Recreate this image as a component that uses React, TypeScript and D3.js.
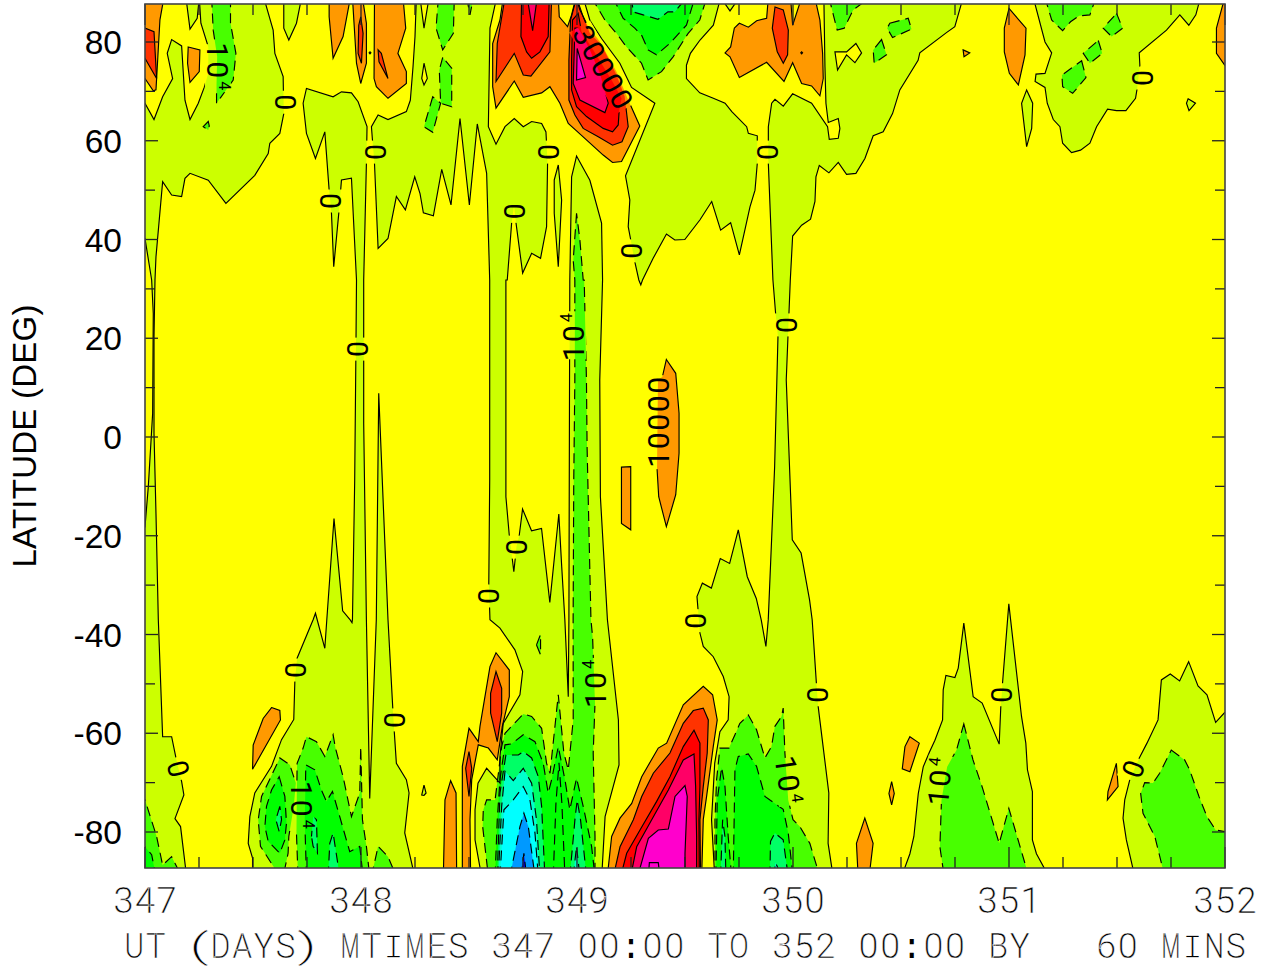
import React from "react";
import * as d3 from "d3";

type P = [number, number];
// every region outline: [hours since day 347, latitude in degrees]
const T = 89, B = -89, R = 121, L = -1;

const yellowWest: P[] = [[4.62,B],[11.95,B],[11.95,-85.3],[11.47,-82.3],[11.65,-76.9],[12.2,-72.1],[14.06,-66.7],[15.17,-61.3],[16.53,-57.2],[16.65,-49.5],[16.9,-44.8],[18.68,-37],[18.94,-35.7],[19.98,-42.8],[20.2,-37],[21,-16.5],[21.96,-35.2],[22.8,-37.05],[23,-37.6],[23.05,-37],[23.3,-8.7],[23.44,18.3],[23.5,31.8],[22.94,52.4],[21.83,52.05],[21.53,45.3],[20.97,34.5],[20.72,45.3],[20.46,50],[19.98,61.8],[18.94,56.4],[17.94,61.5],[17.57,67.6],[17.94,70.6],[20.9,68.9],[21.83,69.9],[22.94,69.7],[23.68,67.9],[24.67,62.85],[24.6,55.4],[24.3,31.8],[24.3,2.8],[24.6,-37.05],[24.97,-73.2],[25.7,-37],[25.97,8.85],[27,-37],[27.56,-55.9],[27.93,-66.1],[29.04,-69.4],[29.34,-72.1],[28.86,-80.2],[29.97,B],[37.4,B],[36.67,-81.6],[36.67,-75.5],[37,-70.1],[37.96,-67.1],[39.44,-70.1],[39.44,-64.7],[39.8,-58],[41.66,-52.2],[41.96,-47.5],[41.1,-43.1],[39.44,-38.7],[38.33,-37],[38.2,-29.6],[38.3,-8.7],[38.3,31.8],[37.96,53.4],[36.92,63.4],[36.04,47],[35,64.5],[34,47],[32.97,54.2],[32.04,44.8],[30.93,45.4],[30.56,49.3],[29.97,52.7],[28.93,46],[27.93,48.7],[27,40.2],[25.9,38.2],[25.5,55.4],[25.27,60.2],[25.16,62.85],[25.9,65.2],[27,64.3],[29.04,65.9],[29.48,68.2],[29.78,75],[30,81.1],[30.15,T],[13.2,T],[14.24,82.4],[14.43,77.7],[15.35,73],[15.42,65.5],[14.98,61.5],[13.87,59.5],[13.69,57.4],[12.2,53],[8.99,47.3],[7.03,52],[5,53.4],[4.44,52.4],[4.07,48.7],[2.96,49],[1.96,51.7],[1.22,36.5],[1.11,31.8],[1,20.3],[1,0.75],[1.22,-15.5],[1.48,-37],[1.96,-60.7],[2.96,-60.7],[3.44,-65],[4.07,-69.8],[4.32,-72.5],[3.33,-77.3],[3.95,-78.9]];
const yellowPocket: P[] = [[L,40.2],[0,40.2],[0.74,31.8],[0.92,25],[0.85,4.8],[0.37,-10],[0,-18.2],[L,-18.2]];
const yellowMiddle: P[] = [[50.75,B],[63.3,B],[62.95,-77.5],[63.3,-66.1],[63.88,-59.7],[64.8,-57.3],[64.9,-52.6],[64.25,-48.5],[63.14,-44.5],[62.03,-42.4],[61.66,-39.7],[61.33,-32.3],[61.93,-29.6],[62.93,-30.6],[63.92,-24.6],[64.96,-25.6],[65.92,-18.8],[66.92,-28.3],[67.92,-32.7],[68.47,-37.05],[68.99,-42.4],[69.25,-37.04],[69.96,-6],[70.33,20.3],[70.07,25],[69.77,31.8],[69.26,55.4],[69.26,62.85],[69.63,67.6],[70,68.4],[70.92,67],[71.96,69.5],[74.07,67.6],[75.84,62.85],[76.03,60.3],[77.03,60.5],[77.21,62.5],[77.03,64.5],[75.92,63.7],[75.66,67.6],[75.55,75],[75.43,T],[66.04,T],[65,86.3],[63.96,T],[63.15,83.4],[61.67,80.4],[60.6,77.7],[60.16,75.3],[60.16,72.6],[61.64,69.7],[63.15,68.6],[64.45,67.6],[65.2,65.9],[66.85,62.85],[67.04,61.5],[68.03,61],[68.03,55.4],[67.78,50],[67.22,46.6],[66.04,36.9],[65.07,43.4],[63.96,41.9],[62.97,47.7],[61.67,44],[59.98,40],[58.87,39.9],[57.94,41.1],[56.46,36.2],[55.28,31.8],[55.09,30.8],[54.87,31.8],[54.42,35.5],[53.94,40.2],[53.69,42.6],[53.87,48],[53.39,52.9],[56.65,67.6],[54.06,70.8],[52.76,75.7],[50.73,80.7],[49.43,84.4],[48.69,T],[39.07,T],[38.33,82.8],[38.15,62.85],[39,59.3],[40,62.85],[41.03,64.5],[42.03,62.85],[42.96,63.9],[44.07,63.5],[44.55,61.8],[44.73,55.4],[44.62,42.6],[43.95,36.2],[42.96,37.2],[41.96,33.2],[41.22,43.4],[41,47],[40.74,43.4],[40.25,31.8],[40.1,31.8],[40.1,-12.1],[40.47,-19.8],[40.65,-22.2],[40.98,-27.3],[41.28,-22.2],[41.58,-20],[41.95,-14.6],[42.95,-19],[44.06,-18.5],[44.98,-33.5],[45.98,-15.6],[46.28,-25.6],[46.65,-37],[47.03,-52.6],[47.1,-37],[47.2,31.8],[47.4,52.7],[47.95,56.9],[49.43,52],[50.73,43.3],[50.84,31.8],[50.53,11.55],[50.6,-12.1],[51.38,-37],[52.6,-57.3],[52.67,-66.4],[51.12,-76.9]];
const yellowEast: P[] = [[76.46,B],[75.9,-82.3],[75.98,-72.1],[74.98,-57.3],[74.8,-54.6],[74.6,-49.9],[74.13,-37],[73.84,-33],[72.9,-23.5],[71.92,-20.8],[71.25,11.55],[71.44,20.3],[71.55,25],[71.7,31.8],[71.96,40.7],[72.96,42.9],[73.95,44.1],[74.44,47.7],[74.55,52.7],[74.92,55],[75.99,53.5],[77.03,55.6],[77.95,53.2],[78.99,53.4],[79.99,56.4],[80.91,61],[82.02,61.8],[83.06,65.5],[83.87,70.3],[85.9,76.3],[86.09,77.8],[89.05,81.9],[89.98,83.1],[90.9,T],[98.7,T],[100,80],[100.74,77.8],[100,73.65],[99,73.5],[98.9,72],[100,70.8],[100.25,67.6],[100.92,64.3],[101.66,62.85],[101.96,59.5],[102.95,57.6],[103.95,58.1],[104.99,59.5],[105.73,62.85],[106.95,66.4],[107.95,66.1],[108.99,66.1],[110.06,68.6],[110.24,70.6],[110.54,75.3],[110.47,77.8],[113.5,82.4],[114.98,85.5],[115.98,83.4],[116.76,85.5],[117.27,T],[R,T],[R,-55.8],[119.96,-55.8],[118.96,-57.8],[118,-52.2],[117,-50.4],[115.96,-45.5],[114.96,-49.4],[113.92,-48],[112.93,-49.2],[112.56,-57.3],[111.33,-62],[110.45,-65.1],[109.41,-69.5],[108.86,-73.5],[108.67,-77.2],[109.04,-81.6],[109.97,B],[100.42,B],[99.05,-84.4],[98.6,-81.6],[98.6,-71.8],[98.05,-67.4],[97.87,-62],[97.39,-56.6],[95.98,-33.8],[95.28,-49.9],[95.09,-54.6],[94.91,-62.2],[93.02,-53.9],[92.02,-52.6],[90.98,-37.7],[90.36,-46.8],[89.99,-48.7],[88.99,-48.3],[88.69,-51.2],[88.62,-57.3],[87.77,-61.4],[87.14,-63.9],[86.47,-66.8],[85.92,-72.2],[85.43,-80.9],[84.99,-84.4],[84.07,B]];
const yellowNorthwest: P[] = [[L,67.6],[0,67.6],[1,64.3],[1.96,68.9],[3.07,72.6],[2.47,77.7],[2.96,80.5],[4.07,79.2],[4.44,68.2],[5,64.3],[5.92,67.6],[6.58,70.8],[7.03,73.65],[7.03,79],[6.21,83.8],[6.03,T],[5.8,84.8],[5,82.6],[4.55,T],[L,T]];
const yellowSmall: P[][] = [
  [[30.56,T],[31,82.8],[31.56,T]],
  [[31,75.7],[31.37,72.6],[31,71.3],[30.75,72.6]],
  [[76.66,78],[77.95,78],[78.99,79.7],[79.62,77.8],[78.88,75.8],[77.95,77.4],[76.95,74.3]],
];
const negIslands: P[][] = [
  [[15.42,T],[15.42,82.8],[15.98,80.4],[16.83,83.8],[17.4,T]],
  [[45.47,52.05],[45.92,55.1],[46.29,48],[45.92,34.5],[45.47,45.3]],
  [[97.96,70.3],[98.63,67.6],[98.52,62.5],[97.96,58.8],[97.4,67.6]],
  [[115.9,68.5],[116.72,67.6],[116,66.1],[115.72,67.6]],
  [[30.75,-72.5],[31,-70.5],[31.23,-72.1],[31,-72.6]],
];
const greenNorth: P[][] = [
  [[7.4,T],[7.58,82.4],[8.02,77],[7.95,71.6],[7.95,67.6],[9.8,72.3],[10.1,77.7],[9.5,83.8],[9.5,T]],
  [[7.03,63.9],[6.47,62.85],[7.03,62.2],[7.14,63]],
  [[32.6,T],[32.34,82.8],[33.08,78.4],[34.26,81.75],[34.37,T]],
  [[33.08,76.9],[32.7,74.3],[32.85,67.6],[34.08,66.9],[34.08,74.7]],
  [[31.97,68.9],[31,62.85],[31.97,61.7],[32.85,67.6]],
  [[35.74,T],[36.11,85.5],[36.48,T]],
  [[49.62,T],[51.1,84.45],[52.39,81.75],[53.5,79],[55.17,75.7],[55.9,72.3],[57.39,74],[58.68,77],[60.35,81.75],[61.64,84.45],[62.41,T]],
  [[76,T],[76.91,82.4],[77.69,82.8],[78.69,86.5],[80.54,T]],
  [[82.76,83.8],[84.8,84.8],[85.17,82.6],[83.06,80.9],[82.46,82.8]],
  [[81.84,80.5],[80.91,78.4],[81.02,75.7],[82.39,77.4]],
  [[100,T],[100.74,84.45],[101.96,82.3],[102.84,84.1],[103.8,85.3],[104.99,85.5],[105.66,T]],
  [[107.95,85.8],[108.62,82.8],[107.4,81.1],[106.47,82.8]],
  [[105.92,80.3],[106.36,77.7],[104.99,75.7],[104.25,77.7]],
  [[104.07,76.2],[104.55,72.8],[103.07,69.6],[101.96,70.95],[101.88,73.3]],
];
const greenSouth: P[][] = [
  [[L,-73.5],[0,-73.5],[1.29,-80.9],[1.96,-86.7],[2.96,-85],[4.07,B],[L,B]],
  [[14.98,B],[12.83,-82.9],[12.58,-77.5],[12.95,-72.8],[14.98,-65],[16.09,-66.4],[16.76,-70.1],[16.53,-74.8],[15.98,-80.9],[15.9,-84.3],[15.35,B]],
  [[17,B],[16.83,-80.2],[16.9,-66.1],[17.57,-63],[17.94,-60.7],[19.05,-61.7],[19.98,-64.7],[20.9,-60.3],[21.16,-63],[22.01,-68.8],[22.94,-76.9],[23.86,-72.1],[23.97,-62.7],[24.16,-77.5],[24.6,-82.9],[24.97,B]],
  [[25.16,B],[25.9,-82.9],[27,-85],[27.93,B]],
  [[43.5,-42.1],[43.95,-40],[43.95,-44.1]],
  [[47.95,45.3],[47.58,35.8],[47.76,31.8],[47.76,11.55],[47.64,-8.7],[47.57,-37],[47.58,-57.3],[47.03,-67.4],[46.54,-64],[45.92,-52.2],[45,-68.1],[44.62,-66.1],[44.07,-59],[42.96,-56.6],[42.03,-56.1],[40,-60],[39.63,-62.7],[38.9,-73.5],[37.96,-73.5],[37.59,-75.5],[37.52,-78.9],[38.15,B],[50,B],[50,-80.9],[49.8,-64],[50,-53.9],[49.73,-40.4],[49.55,-37],[49.12,-2],[49.05,11.55],[48.8,31.8],[48.69,31.8],[48.32,39.9]],
  [[63.33,B],[63.33,-77.5],[63.51,-69.4],[63.88,-63],[64.88,-63],[65.55,-60.3],[66.1,-58],[67.03,-56.3],[67.95,-59.3],[68.88,-65],[69.61,-62.7],[69.99,-58.6],[70.73,-56.6],[70.91,-54.9],[71.1,-64],[71.47,-73.5],[72,-77.5],[72.76,-78.9],[73.87,-82.3],[74.98,B]],
  [[90.98,-58.1],[92,-65.4],[93.06,-71.1],[94.91,-82.3],[95.98,-75.2],[98.2,B],[88.8,B],[88.32,-83],[88.5,-73.5],[89.13,-66.8],[90.17,-63.4]],
  [[114.03,-63.4],[115.52,-65.4],[116.07,-67.4],[117.11,-72.8],[118,-76.9],[118.96,-79.6],[119.96,-79.9],[R,-79.9],[R,B],[113.3,B],[112.2,-80.9],[110.89,-76.2],[110.63,-72.2],[111.08,-70],[112,-70.1],[112.74,-68.1]],
];
const deepGreen: P[][] = [
  [[52,T],[53.13,84.8],[54.42,82.8],[55.17,81.4],[55.9,78.4],[56.83,77.4],[58.3,79.7],[60.16,83.4],[61.1,T]],
  [[L,-83],[0,-83],[0.74,-84.6],[1.22,B],[L,B]],
  [[14.91,-68.8],[15.54,-72.8],[15.72,-78.2],[15.54,-81.6],[14.98,-84.3],[13.69,-81.9],[13.32,-78.9],[13.5,-74.8],[14.06,-71.5]],
  [[17.94,B],[17.75,-77.5],[17.87,-66.4],[18.87,-67.4],[19.6,-71.5],[20.16,-73.8],[20.83,-71.8],[21.64,-76.9],[22.75,-84],[23.86,-82.9],[24.23,B]],
  [[38.9,B],[39.14,-77.5],[39.44,-69.4],[40,-62.35],[40.74,-62.15],[42.03,-60.3],[43.33,-61.7],[44.25,-66.1],[44.8,-72.1],[45.18,-69.4],[45.92,-62.7],[46.66,-69.4],[47.2,-75.5],[47.95,-69.1],[48.69,-74.8],[49.62,-82.9],[50,B]],
  [[45.36,B],[45.66,-74.2],[46,-66],[46.32,-74.2],[46.66,B]],
  [[65.36,B],[65.55,-67.4],[65.92,-64.7],[67.03,-64.2],[67.95,-66.7],[68.88,-72.8],[70.91,-75.4],[71.47,-80.2],[72,B]],
  [[63.44,B],[63.58,-73.5],[64.07,-66.9],[64.44,-70.8],[64.8,-80.9],[65.18,B]],
];
const springGreen: P[][] = [
  [[54.06,T],[54.24,86.1],[55.35,85.5],[57,84.6],[58.1,86.1],[58.87,86.1],[60.16,T]],
  [[14.98,-74.8],[14.54,-77.5],[14.91,-79.9],[15.17,-77.5]],
  [[18.5,-80.9],[18.68,-76.9],[19.05,-77.5],[19.16,-84.3],[18.68,-82.9]],
  [[20.35,B],[20.53,-82.3],[20.9,-80.2],[21.64,B]],
  [[39.14,B],[39.44,-72.1],[40.1,-64.4],[41.48,-64.4],[42.03,-63.7],[42.96,-65],[43.7,-68.8],[44.07,-74.8],[44.43,B]],
  [[47.2,B],[47.77,-77.5],[48.02,-73.5],[48.39,-77.5],[49.06,B]],
  [[63.95,B],[64.18,-77.5],[64.44,-80.9],[64.55,B]],
  [[69.43,B],[69.5,-81.9],[69.99,-80.2],[70.91,-81.6],[71.47,B]],
];
const turquoise: P[][] = [
  [[39.26,B],[39.63,-74.8],[40,-67.7],[40.92,-69.6],[42.03,-67.1],[42.96,-70.1],[43.5,-77.5],[43.88,B]],
  [[47.58,B],[47.95,-82.9],[48.32,B]],
  [[69.87,B],[70.06,-86.2],[70.73,B]],
];
const cyanCore: P[] = [[39.44,B],[39.88,-75.5],[40.92,-73.5],[42.03,-70.8],[42.77,-73.5],[43.33,-80.2],[43.7,B]];
const blueCore: P[] = [[40.55,B],[41.66,-78.9],[42.1,-76.2],[42.59,-78.9],[43.33,B]];
const deepBlueCore: P[] = [[41.77,B],[42.1,-84.3],[42.4,B]];

const orange: P[][] = [
  [[L,T],[2.1,T],[1.66,84.5],[1.22,70.3],[0.92,70.1],[0,72.6],[L,72.6]],
  [[4.8,79],[6.1,78.4],[6.03,74],[5,71.8],[4.73,75.7]],
  [[20.46,T],[20.46,85.1],[20.9,76.7],[22.01,81.1],[22.82,T]],
  [[23.05,T],[23.5,75.7],[23.97,71.6],[24.6,75.7],[24.6,83.8],[24.16,T]],
  [[25.5,T],[25.45,72.6],[25.71,70.95],[27,68.6],[29.04,71.6],[29.04,74],[28.1,77.7],[28.97,82.8],[28.67,T]],
  [[24.9,77.8],[25,78],[25.1,77.8],[25,77.6]],
  [[39.81,T],[39.44,84.45],[38.63,79.7],[38.63,70.95],[39,66.6],[41.03,72.1],[42.03,68.8],[44.07,69.7],[44.99,70.95],[46.1,67.6],[47.03,63.5],[47.95,62],[50.91,57.1],[51.95,55.6],[52.95,55.8],[54.98,63],[53.69,68.25],[52.39,74],[50.54,80.1],[49.25,83.1],[48.32,86.5],[47.88,T],[47.4,85.5],[46.95,83.1],[46.03,85.1],[45.92,T]],
  [[72.86,77.8],[72.96,78],[73.06,77.8],[72.96,77.6]],
  [[90.9,78.4],[91.64,77.8],[91,77]],
  [[65.48,82.8],[66.04,83.8],[67.04,83],[67.96,84.3],[69.07,84.8],[69.26,T],[71.73,T],[71.96,83.4],[72.96,T],[74.43,T],[74.99,84.45],[75.29,77.7],[75.36,72.6],[74.99,69.1],[74.07,71.1],[72.96,71.6],[71.96,75.8],[71,72],[69.07,75.9],[66.04,72.8],[65,77],[64.45,77.8],[65.07,79]],
  [[119.97,T],[119.05,82.8],[119.05,77.7],[119.97,75.3],[R,75.3],[R,T]],
  [[96,86.8],[97.89,82.8],[97.78,77.4],[97.04,71.3],[96.04,73.65],[95.48,78],[95.48,82.8]],
  [[14.06,-54.8],[14.98,-55.4],[15.05,-57.3],[11.95,-67.3],[12.02,-62.4],[13.13,-57]],
  [[33.15,B],[33.33,-73.5],[33.96,-69.6],[34.56,-72.1],[34.63,B]],
  [[35.26,B],[35.26,-66.7],[36,-59],[37.03,-61.7],[37.22,-58.6],[38.33,-46.5],[39,-43.7],[40.48,-47.2],[40.48,-52.6],[39.7,-58.6],[39.14,-65.4],[38.15,-63],[37.03,-62.35],[36.3,-69.4],[36.11,-77.5],[36.18,B]],
  [[51.37,B],[51.85,-80.9],[52.78,-77.2],[54.08,-74.2],[55.19,-68.8],[57.03,-63],[57.96,-62],[59.81,-54.25],[62.03,-50.5],[63.07,-52.2],[63.58,-57.3],[63.14,-62.7],[62.4,-72.8],[62.03,-77.5],[61.85,B]],
  [[79.05,-82.3],[79.98,-77.2],[80.9,-82.3],[80.46,B],[79.24,B]],
  [[84.99,-60.7],[86.03,-62],[84.99,-67.8],[84.14,-67.2],[84.44,-62.7]],
  [[82.96,-69.8],[83.25,-72.2],[82.96,-74.5],[82.66,-72.2]],
  [[107.93,-66.1],[108.12,-70.8],[106.93,-73.5],[107,-71.8]],
  [[57.93,15.7],[58.97,12.9],[59.34,4.8],[59.34,-3.3],[58.97,-11.7],[57.93,-18.15],[57.08,-12.1],[56.89,-6.3],[57,11.55],[57.49,12.2]],
  [[52.94,-6.1],[53.97,-6],[53.97,-18.8],[52.94,-17.5]],
];
const redOrange: P[][] = [
  [[L,82.8],[0,82.8],[1,82.1],[1.29,72.6],[0,76.7],[L,76.7]],
  [[23.75,83.4],[23.68,77.7],[24.05,75.7],[24.23,81.75],[23.97,85.1]],
  [[25.9,78.4],[26,76],[27,72.6],[26.26,77.7]],
  [[40,T],[39.14,79.7],[39,72],[41.03,77.7],[42.03,73.3],[42.88,73.1],[44.99,78],[45.18,T]],
  [[47.95,T],[47.28,84.45],[47.1,76.35],[47.1,68.25],[47.77,65.2],[48.69,62.5],[50.36,60.8],[51.95,59.1],[53,59.8],[53.69,62.85],[53.3,68.9],[52.39,73.3],[50.73,79.4],[49.43,81.75],[48.69,85.1]],
  [[70,87.1],[70.92,86.5],[71.48,82.4],[71.4,77.4],[70.92,75.7],[70.25,78],[69.7,82.8]],
  [[36,-63.7],[35.63,-67.1],[36,-72.8],[36.3,-67.1]],
  [[39,-47.5],[38.4,-51.9],[38.4,-55.9],[39.14,-61.7],[39.63,-55.9],[39.63,-50.9]],
  [[52.04,B],[52.78,-83],[54.26,-77.5],[55.19,-72.8],[56.48,-68.1],[58.33,-64],[59.81,-58],[60.92,-55.4],[62.03,-54.9],[62.59,-57.3],[62.47,-64],[62.03,-70.8],[61.66,-77.5],[61.73,B]],
];
const red: P[][] = [
  [[41.85,T],[41.77,81.1],[42.4,78],[42.96,76.7],[43.88,78],[44.8,81.1],[44.92,T]],
  [[48.13,85.8],[47.5,84.45],[47.4,76.35],[47.4,70.3],[47.95,66.9],[49.06,64.9],[50.91,62.5],[51.95,61.8],[52.58,63.2],[52.69,66.2],[52.95,68.6],[51.84,72.3],[49.8,78.4],[48.5,82.1]],
  [[52.85,B],[53.52,-84.3],[55,-79.6],[56.85,-73.8],[58.33,-68.8],[59.81,-62.7],[61,-59.4],[61.66,-62],[61.66,-70.8],[61.55,-77.5],[61.59,B]],
];
const crimson: P[][] = [
  [[42.47,T],[43.07,82.3],[43.58,T]],
  [[47.77,82.8],[47.58,71.6],[48.32,68.25],[51.1,65.7],[51.47,67.6],[51.28,68.9],[50.54,73.65],[49.43,78.4],[48.69,81.1],[48.13,82.8]],
  [[53.96,B],[54.63,-83],[56.3,-77.5],[58.15,-71.5],[59.81,-65.4],[61,-64.2],[61.18,-70.8],[61.29,-80.9],[61.29,B]],
];
const magenta: P[][] = [
  [[48.02,78.7],[47.95,72.3],[48.95,72.8]],
  [[54.74,B],[55.93,-81.3],[57.03,-79.6],[58.15,-79.4],[58.89,-72.8],[60,-70.6],[60.25,-72.8],[60,-84.3],[60,B]],
  [[55.93,B],[56.04,-86.2],[57.03,-86.2],[57.22,B]],
];

// contour band (mid value) -> colour
const bandThresholds = [-70000,-60000,-50000,-40000,-30000,-20000,-10000,0,10000,20000,30000,40000,50000];
const bandColors = ["#0000ff","#0099ff","#00ffff","#00ffcc","#00ff66","#00ff00","#48ff00","#ccff00","#ffff00","#ff9900","#ff3300","#ff0000","#ff0066","#ff00cc"];

const regions: [P[], number][] = [
  [yellowWest,5000],[yellowPocket,5000],[yellowMiddle,5000],[yellowEast,5000],[yellowNorthwest,5000],
  ...yellowSmall.map((p): [P[],number] => [p,5000]),
  ...negIslands.map((p): [P[],number] => [p,-5000]),
  ...greenNorth.map((p): [P[],number] => [p,-15000]),
  ...greenSouth.map((p): [P[],number] => [p,-15000]),
  ...deepGreen.map((p): [P[],number] => [p,-25000]),
  ...springGreen.map((p): [P[],number] => [p,-35000]),
  ...turquoise.map((p): [P[],number] => [p,-45000]),
  [cyanCore,-55000],[blueCore,-65000],[deepBlueCore,-75000],
  ...orange.map((p): [P[],number] => [p,15000]),
  ...redOrange.map((p): [P[],number] => [p,25000]),
  ...red.map((p): [P[],number] => [p,35000]),
  ...crimson.map((p): [P[],number] => [p,45000]),
  ...magenta.map((p): [P[],number] => [p,55000]),
];

// contour labels: [hour, latitude, rotation]
const zeroLabels: [number,number,number][] = [[15.56,67.8,-90],[25.56,57.7,-90],[20.56,47.8,-90],[23.56,17.8,-90],[44.78,57.7,-90],[41,45.7,-90],[54,37.7,-90],[69.22,57.7,-90],[71.33,22.7,-90],[41.33,-22.3,-90],[38.22,-32.2,-90],[61.22,-37.2,-90],[16.67,-47.2,-90],[27.67,-57.3,-90],[3.67,-67.2,-105],[74.67,-52.2,-90],[95.22,-52.2,-90],[109.78,-67.2,-70],[110.78,72.7,-90]];
const powerLabels: [number,number,number][] = [[8.1,74.7,90],[17.4,-74.9,90],[47.56,20.6,-90],[50,-49.6,-90],[71.5,-69.8,82],[88.3,-69.4,-85]];
const wideLabels: [string,number,number,number][] = [["10000",57.1,3,-90],["30000",50.9,74.9,60]];

const dayTicks = [347,348,349,350,351,352];
const latLabels = [80,60,40,20,0,-20,-40,-60,-80];
const minorTickHours = d3.range(0,121,6);
const latTicks = d3.range(-80,81,10);
const titleText = "UT (DAYS) MTIMES 347 00:00 TO 352 00:00 BY   60 MINS";
const yTitle = "LATITUDE (DEG)";

const W = 1270, H = 969;
const x = d3.scaleLinear().domain([0,120]).range([145,1225]);
const y = d3.scaleLinear().domain([-80,80]).range([832,42]);
const band = d3.scaleThreshold<number,string>().domain(bandThresholds).range(bandColors);
const pathOf = d3.line<P>().x(d=>x(d[0])).y(d=>y(d[1])).curve(d3.curveLinearClosed);
const LEFT = 145, RIGHT = 1225, TOP = 4, BOTTOM = 868;

const SANS = "'Liberation Sans', Arial, sans-serif";
const THIN = "'Roboto', 'Liberation Sans', sans-serif";
const MONO = "'Liberation Mono', monospace";

function Chars({text,cx,cy,pitch,cw,size,weight,thin}:{text:string,cx:number,cy:number,pitch:number,cw:number,size:number,weight?:number,thin?:boolean}){
  const n = text.length;
  const edge = thin ? {stroke:"#fff",strokeWidth:0.4} : {};
  return <g>{Array.from(text).map((c,i)=>{
    if(c===" ") return null;
    const mid = cx+(i-(n-1)/2)*pitch;
    if(c==="I") return <text key={i} x={mid} y={cy} textAnchor="middle" fontFamily={MONO} fontSize={size} fill="#000" stroke="#fff" strokeWidth={1.5}>{c}</text>;
    if(c===":") return <text key={i} x={mid} y={cy} textAnchor="middle" fontFamily={MONO} fontSize={size} fill="#000">{c}</text>;
    if(c==="M") return <g key={i} transform={`translate(${mid},${cy}) scale(0.62,1)`}><text x={0} y={0} textAnchor="middle" fontFamily={THIN} fontSize={size} fontWeight={weight??300} fill="#000" {...edge}>{c}</text></g>;
    return <text key={i} x={mid-cw/2} y={cy} fontFamily={THIN} fontSize={size} fontWeight={weight??300}
      textLength={cw} lengthAdjust="spacingAndGlyphs" fill="#000" {...edge}>{c}</text>;
  })}</g>;
}

export default function App(){
  const gaps:{cx:number,cy:number,r:number,w:number,h:number}[] = [
    ...zeroLabels.map(([a,b,r])=>({cx:x(a),cy:y(b),r,w:23,h:26})),
    ...powerLabels.map(([a,b,r])=>({cx:x(a),cy:y(b),r,w:48,h:26})),
    ...wideLabels.map(([,a,b,r])=>({cx:x(a),cy:y(b),r,w:94,h:24})),
  ];
  return (
    <svg width={W} height={H} viewBox={`0 0 ${W} ${H}`} style={{position:"absolute",left:0,top:0,background:"#fff"}}>
      <defs>
        <clipPath id="plot"><rect x={LEFT} y={TOP} width={RIGHT-LEFT} height={BOTTOM-TOP}/></clipPath>
        <mask id="gaps" maskUnits="userSpaceOnUse" x={0} y={0} width={W} height={H}>
          <rect x={0} y={0} width={W} height={H} fill="#fff"/>
          {gaps.map((g,i)=><rect key={i} x={-g.w/2} y={-g.h/2} width={g.w} height={g.h} fill="#000" transform={`translate(${g.cx},${g.cy}) rotate(${g.r})`}/>)}
        </mask>
      </defs>
      <g clipPath="url(#plot)">
        <rect x={LEFT} y={TOP} width={RIGHT-LEFT} height={BOTTOM-TOP} fill={band(-5000)}/>
        {regions.map(([p,v],i)=><path key={i} d={pathOf(p)!} fill={band(v)}/>)}
        <g mask="url(#gaps)">
          {regions.map(([p,v],i)=><path key={i} d={pathOf(p)!} fill="none" stroke="#000" strokeWidth={1.15} strokeDasharray={v< -10000?"10 6":undefined}/>)}
        </g>
        {zeroLabels.map(([a,b,r],i)=><g key={i} transform={`translate(${x(a)},${y(b)}) rotate(${r})`}>
          <text x={-8} y={10.5} fontFamily={THIN} fontSize={29} fontWeight={400} textLength={16} lengthAdjust="spacingAndGlyphs">0</text></g>)}
        {powerLabels.map(([a,b,r],i)=><g key={i} transform={`translate(${x(a)},${y(b)}) rotate(${r})`}>
          <Chars text="10" cx={-8} cy={10.5} pitch={19} cw={17} size={29} weight={400}/>
          <text x={13} y={-1} fontFamily={THIN} fontSize={16} fontWeight={400}>4</text></g>)}
        {wideLabels.map(([t,a,b,r],i)=><g key={i} transform={`translate(${x(a)},${y(b)}) rotate(${r})`}>
          <Chars text={t} cx={0} cy={10.5} pitch={18.5} cw={17} size={29} weight={400}/></g>)}
      </g>
      <g stroke="#222" strokeWidth={1.3}>
        {minorTickHours.map(h=>{const long=h%24===0;const len=long?21:11;return <g key={h}>
          <line x1={x(h)} x2={x(h)} y1={TOP} y2={TOP+len}/>
          <line x1={x(h)} x2={x(h)} y1={BOTTOM} y2={BOTTOM-len}/></g>;})}
        {latTicks.map(l=>{const long=l%20===0;const len=long?13:10;return <g key={l}>
          <line y1={y(l)} y2={y(l)} x1={LEFT} x2={LEFT+len}/>
          <line y1={y(l)} y2={y(l)} x1={RIGHT} x2={RIGHT-len}/></g>;})}
      </g>
      <rect x={LEFT} y={TOP} width={RIGHT-LEFT} height={BOTTOM-TOP} fill="none" stroke="#444" strokeWidth={1.6}/>
      {latLabels.map(l=><text key={l} x={122} y={y(l)+12} textAnchor="end" fontFamily={SANS} fontSize={33.5} fill="#000">{l}</text>)}
      <text transform="translate(36,436) rotate(-90)" textAnchor="middle" fontFamily={SANS} fontSize={33} textLength={263} fill="#000">{yTitle}</text>
      {dayTicks.map((d,i)=><Chars key={d} text={String(d)} cx={x(i*24)} cy={913} pitch={21.6} cw={20} size={37} weight={300} thin/>)}
      <Chars text={titleText} cx={685} cy={958} pitch={21.6} cw={19.5} size={35} weight={300} thin/>
    </svg>
  );
}
